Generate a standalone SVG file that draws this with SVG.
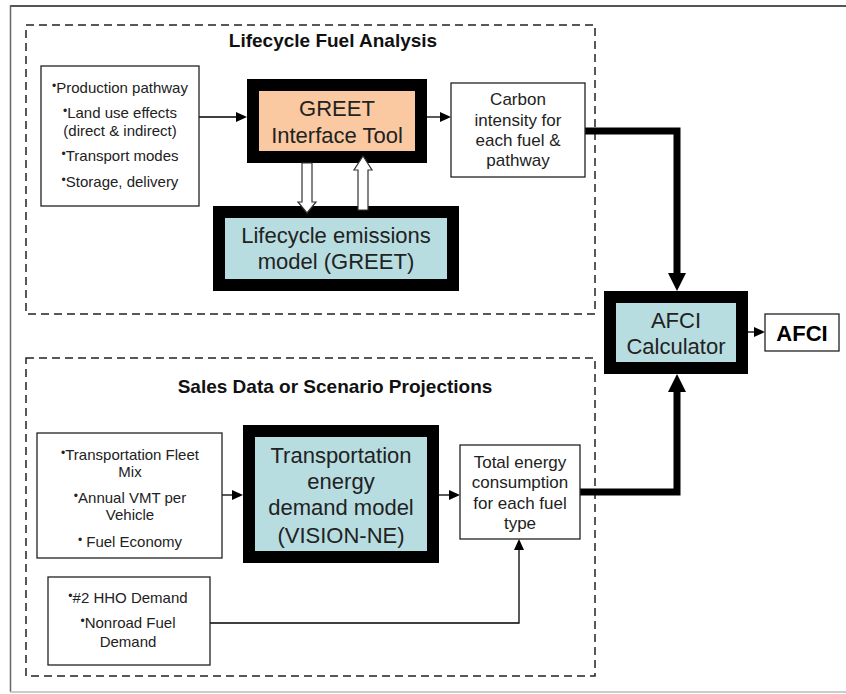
<svg xmlns="http://www.w3.org/2000/svg" width="846" height="694" viewBox="0 0 846 694">
<defs>
<marker id="ah" markerUnits="userSpaceOnUse" markerWidth="11" markerHeight="10" refX="0" refY="5" orient="auto" overflow="visible"><path d="M0,0 L11,5 L0,10 z" fill="#000"/></marker>
<marker id="ahb" markerUnits="userSpaceOnUse" markerWidth="18" markerHeight="18" refX="0" refY="9" orient="auto" overflow="visible"><path d="M0,0 L18,9 L0,18 z" fill="#000"/></marker>
</defs>
<style>
.bg{fill:#fff}
.dash{fill:none;stroke:#222;stroke-width:1.5;stroke-dasharray:8 5}
.box{fill:#fff;stroke:#222;stroke-width:1.3}
.thick{stroke:#000;stroke-width:12}
.orange{fill:#FAC9A1}
.blue{fill:#B7DDE1}
text{font-family:"Liberation Sans",Arial,sans-serif;fill:#222;text-anchor:middle}
.title{font-size:19px;font-weight:bold;fill:#111}
.small{font-size:15px}
.mid{font-size:17px}
.big{font-size:22px}
.out{font-size:22px;font-weight:bold;fill:#000}
.bl{font-size:12px}
.thin{fill:none;stroke:#000;stroke-width:1.3;marker-end:url(#ah)}
.fat{fill:none;stroke:#000;stroke-width:7;stroke-linejoin:miter;marker-end:url(#ahb)}
.hollow{fill:#fff;stroke:#333;stroke-width:1.2}
</style>
<rect class="bg" x="0" y="0" width="846" height="694"/>
<g id="frame">
<line x1="10" y1="6" x2="846" y2="6" stroke="#555" stroke-width="2"/>
<line x1="10.5" y1="5" x2="10.5" y2="692" stroke="#666" stroke-width="1.5"/>
<line x1="10" y1="692" x2="846" y2="692" stroke="#bbb" stroke-width="1.5"/>
</g>
<g id="group-lifecycle">
<rect class="dash" x="26" y="25" width="569" height="289"/>
<text class="title" x="333" y="47">Lifecycle Fuel Analysis</text>
</g>
<g id="group-sales">
<rect class="dash" x="26" y="358" width="569" height="318"/>
<text class="title" x="335" y="393">Sales Data or Scenario Projections</text>
</g>
<g id="connectors">
<path class="thin" d="M199,117 H236"/>
<path class="thin" d="M427,117 H440"/>
<path class="thin" d="M748,332 H754"/>
<path class="thin" d="M222,495 H232"/>
<path class="thin" d="M439,495 H449"/>
<path class="thin" d="M210,623 H519 V550"/>
<path class="fat" d="M585,131 H677 V273"/>
<path class="fat" d="M580,492 H677 V392"/>
</g>
<g id="inputs-fuel">
<rect class="box" x="41" y="66" width="158" height="140"/>
<text class="small" x="120" y="93"><tspan class="bl" dy="-3">•</tspan><tspan dy="3">Production pathway</tspan></text>
<text class="small" x="120" y="118"><tspan class="bl" dy="-3">•</tspan><tspan dy="3">Land use effects</tspan></text>
<text class="small" x="120" y="136">(direct &amp; indirect)</text>
<text class="small" x="120" y="161"><tspan class="bl" dy="-3">•</tspan><tspan dy="3">Transport modes</tspan></text>
<text class="small" x="120" y="187"><tspan class="bl" dy="-3">•</tspan><tspan dy="3">Storage, delivery</tspan></text>
</g>
<g id="greet-interface">
<rect class="thick orange" x="253" y="85" width="168" height="72"/>
<text class="big" x="337" y="116">GREET</text>
<text class="big" x="337" y="143">Interface Tool</text>
</g>
<g id="greet-model">
<rect class="thick blue" x="219" y="212" width="234" height="73"/>
<text class="big" x="336" y="243">Lifecycle emissions</text>
<text class="big" x="336" y="269">model (GREET)</text>
</g>
<g id="hollow-arrows">
<polygon class="hollow" points="302,163 312,163 312,202 316,202 307,213 298,202 302,202"/>
<polygon class="hollow" points="363,156 372,170 368,170 368,210 358,210 358,170 354,170"/>
</g>
<g id="carbon-intensity">
<rect class="box" x="451" y="83" width="134" height="94"/>
<text class="mid" x="518" y="105">Carbon</text>
<text class="mid" x="518" y="126">intensity for</text>
<text class="mid" x="518" y="146">each fuel &amp;</text>
<text class="mid" x="518" y="166">pathway</text>
</g>
<g id="afci-calculator">
<rect class="thick blue" x="610" y="297" width="132" height="71"/>
<text class="big" x="676" y="328">AFCI</text>
<text class="big" x="676" y="354">Calculator</text>
</g>
<g id="afci-output">
<rect class="box" x="765" y="314" width="74" height="37"/>
<text class="out" x="802" y="341">AFCI</text>
</g>
<g id="inputs-vehicle">
<rect class="box" x="37" y="433" width="185" height="125"/>
<text class="small" x="130" y="460"><tspan class="bl" dy="-3">•</tspan><tspan dy="3">Transportation Fleet</tspan></text>
<text class="small" x="130" y="477">Mix</text>
<text class="small" x="130" y="503"><tspan class="bl" dy="-3">•</tspan><tspan dy="3">Annual VMT per</tspan></text>
<text class="small" x="130" y="520">Vehicle</text>
<text class="small" x="130" y="547"><tspan class="bl" dy="-3">•</tspan><tspan dy="3"> Fuel Economy</tspan></text>
</g>
<g id="vision-ne">
<rect class="thick blue" x="249" y="431" width="184" height="126"/>
<text class="big" x="341" y="463">Transportation</text>
<text class="big" x="341" y="489">energy</text>
<text class="big" x="341" y="515">demand model</text>
<text class="big" x="341" y="543">(VISION-NE)</text>
</g>
<g id="total-energy">
<rect class="box" x="460" y="445" width="120" height="94"/>
<text class="mid" x="520" y="468">Total energy</text>
<text class="mid" x="520" y="488">consumption</text>
<text class="mid" x="520" y="509">for each fuel</text>
<text class="mid" x="520" y="529">type</text>
</g>
<g id="inputs-other">
<rect class="box" x="48" y="577" width="162" height="88"/>
<text class="small" x="128" y="603"><tspan class="bl" dy="-3">•</tspan><tspan dy="3">#2 HHO Demand</tspan></text>
<text class="small" x="128" y="628"><tspan class="bl" dy="-3">•</tspan><tspan dy="3">Nonroad Fuel</tspan></text>
<text class="small" x="128" y="647">Demand</text>
</g>
</svg>
